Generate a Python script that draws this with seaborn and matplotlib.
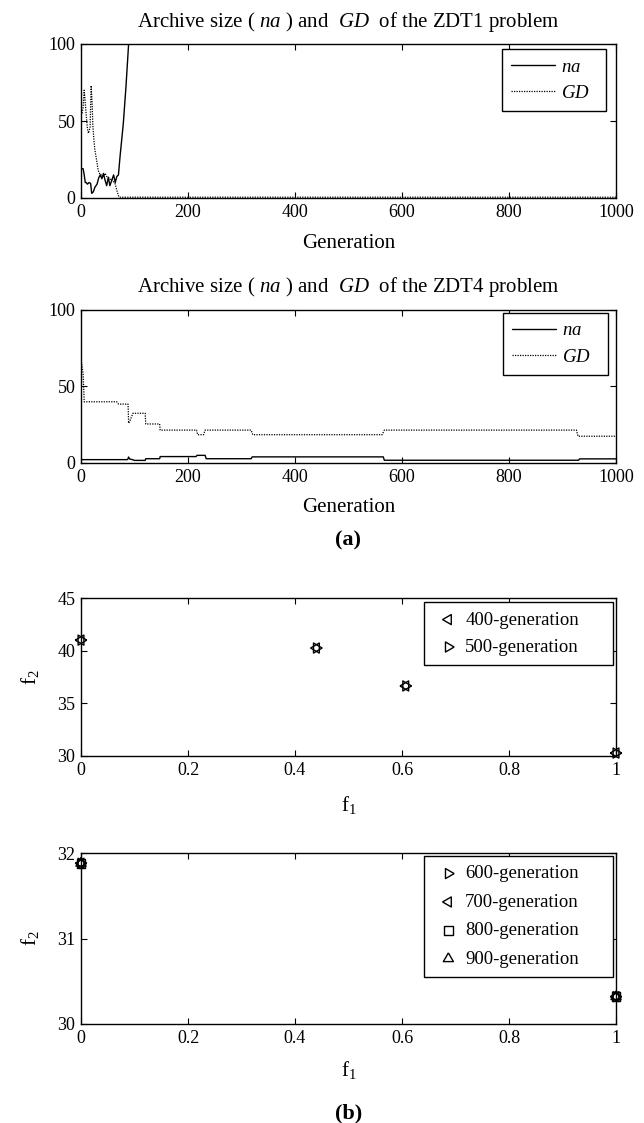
import numpy as np
import pandas as pd
import matplotlib
matplotlib.use("Agg")
import matplotlib.pyplot as plt
import seaborn as sns

# ---------------- data ----------------
# ZDT1
zdt1_na_gen = [0, 4, 6, 8, 10, 12, 15, 18, 20, 23, 26, 30, 33, 36, 39, 42, 45, 48, 51, 54,
               57, 61, 64, 67, 70, 73, 79, 84, 89, 92]
zdt1_na = [19, 19, 15, 10, 10, 9, 10, 9.5, 3, 4, 7, 9, 13, 15, 12.5, 16, 11.5, 8, 13.5, 8,
           11, 15, 10, 14, 15, 27, 48, 72, 100, 110]
zdt1_gd_gen = [2, 4, 6, 9, 12, 14, 17, 19, 21, 22, 24, 26, 29, 32, 36, 39, 42, 45, 48, 51,
               54, 57, 60, 64, 67, 70, 72, 1000]
zdt1_gd = [55, 59, 70, 57, 45, 42, 46, 73, 60, 48, 38, 31, 25, 18, 15, 15, 14, 16, 14, 13.5,
           12, 12.5, 11, 9, 5, 1.5, 0.5, 0.5]

# ZDT4
zdt4_na_gen = [0, 87, 89, 91, 96, 100, 120, 121, 147, 148, 215, 217, 232, 234, 318, 320,
               565, 567, 930, 932, 1000]
zdt4_na = [2.2, 2.2, 3.9, 2.6, 2.2, 1.7, 1.7, 2.8, 2.8, 4.2, 4.2, 5, 5, 2.8, 2.8, 4,
           4, 1.8, 1.8, 2.7, 2.7]
zdt4_gd_gen = [0, 2, 4, 6, 67, 70, 88, 89, 92, 97, 120, 121, 147, 148, 216, 218, 229, 232,
               318, 321, 563, 567, 926, 929, 1000]
zdt4_gd = [68, 63, 58, 40, 40, 38.5, 38.5, 26, 28, 32.5, 32.5, 25.5, 25.5, 21.5, 21.5, 18.5,
           18.5, 21.5, 21.5, 18.5, 18.5, 21.5, 21.5, 17.5, 17.5]

# Pareto fronts
front_a_f1 = [0.0, 0.44, 0.607, 1.0]
front_a_f2 = [41.0, 40.25, 36.65, 30.28]
front_a_labels = ["400-generation", "500-generation"]
front_a_markers = ["left", "right"]

front_b_f1 = [0.0, 1.0]
front_b_f2 = [31.88, 30.32]
front_b_labels = ["600-generation", "700-generation", "800-generation", "900-generation"]
front_b_markers = ["right", "left", "square", "up"]

gen_ticks = [0, 200, 400, 600, 800, 1000]
f1_ticks = [0, 0.2, 0.4, 0.6, 0.8, 1.0]
f1_ticklabels = ["0", "0.2", "0.4", "0.6", "0.8", "1"]

# MATLAB-like marker shapes (centroid-centred triangles)
MARKER_SHAPES = {
    "left": [(-1.0, 0.0), (0.5, 0.866), (0.5, -0.866), (-1.0, 0.0)],
    "right": [(1.0, 0.0), (-0.5, 0.866), (-0.5, -0.866), (1.0, 0.0)],
    "up": [(0.0, 1.0), (0.866, -0.5), (-0.866, -0.5), (0.0, 1.0)],
    "square": "s",
}
MARKER_SIZES = {"left": 70, "right": 70, "up": 70, "square": 40}

# ---------------- style ----------------
sns.set_theme(style="white")
plt.rcParams.update({
    "font.family": ["Liberation Serif", "DejaVu Serif"],
    "mathtext.fontset": "custom",
    "mathtext.rm": "Liberation Serif",
    "mathtext.it": "Liberation Serif:italic",
    "mathtext.bf": "Liberation Serif:bold",
    "axes.edgecolor": "black",
    "axes.linewidth": 1.0,
    "text.color": "black",
    "axes.labelcolor": "black",
    "xtick.color": "black",
    "ytick.color": "black",
    "xtick.labelsize": 13,
    "ytick.labelsize": 13,
    "legend.fontsize": 13.5,
})

W, H = 644, 1123
fig = plt.figure(figsize=(W / 100, H / 100), dpi=100)


def fx(px):
    return px / W


def fy(py):
    return 1 - py / H


AX_L, AX_R = 81, 616


def add_ax(top, bottom):
    return fig.add_axes([fx(AX_L), fy(bottom), fx(AX_R) - fx(AX_L), (bottom - top) / H])


ax1 = add_ax(44, 198)
ax2 = add_ax(310, 463)
ax3 = add_ax(598, 756)
ax4 = add_ax(853, 1024)

dotted = (0, (1, 1))

# Panel 1
sns.lineplot(x=zdt1_na_gen, y=zdt1_na, ax=ax1, color="black", linewidth=1.0,
             estimator=None, sort=False, label="$na$")
sns.lineplot(x=zdt1_gd_gen, y=zdt1_gd, ax=ax1, color="black", linewidth=0.9,
             linestyle=dotted, estimator=None, sort=False, label="$GD$")

# Panel 2
sns.lineplot(x=zdt4_na_gen, y=zdt4_na, ax=ax2, color="black", linewidth=1.0,
             estimator=None, sort=False, label="$na$")
sns.lineplot(x=zdt4_gd_gen, y=zdt4_gd, ax=ax2, color="black", linewidth=0.9,
             linestyle=dotted, estimator=None, sort=False, label="$GD$")

for ax in (ax1, ax2):
    ax.set_xlim(0, 1000)
    ax.set_ylim(0, 100)
    ax.set_xticks(gen_ticks)
    ax.set_yticks([0, 50, 100])

# Panel 3
for lab, mk in zip(front_a_labels, front_a_markers):
    sns.scatterplot(x=front_a_f1, y=front_a_f2, ax=ax3, marker=MARKER_SHAPES[mk],
                    s=MARKER_SIZES[mk], facecolors="none", edgecolor="black",
                    linewidth=1.0, label=lab, clip_on=False, zorder=3)
ax3.set_xlim(0, 1)
ax3.set_ylim(30, 45)
ax3.set_yticks([30, 35, 40, 45])

# Panel 4
for lab, mk in zip(front_b_labels, front_b_markers):
    sns.scatterplot(x=front_b_f1, y=front_b_f2, ax=ax4, marker=MARKER_SHAPES[mk],
                    s=MARKER_SIZES[mk], facecolors="none", edgecolor="black",
                    linewidth=1.0, label=lab, clip_on=False, zorder=3)
ax4.set_xlim(0, 1)
ax4.set_ylim(30, 32)
ax4.set_yticks([30, 31, 32])

for ax in (ax3, ax4):
    ax.set_xticks(f1_ticks)
    ax.set_xticklabels(f1_ticklabels)

for ax in (ax1, ax2, ax3, ax4):
    ax.grid(False)
    ax.set_xlabel("")
    ax.set_ylabel("")
    ax.tick_params(which="both", direction="in", top=True, right=True, bottom=True,
                   left=True, length=4, width=0.8, pad=4)
    for sp in ax.spines.values():
        sp.set_visible(True)
        sp.set_color("black")
        sp.set_linewidth(1.0)


def legend(ax, left_px, right_px, top_px, top_ax, bottom_ax, **kw):
    ax_w = AX_R - AX_L
    x0 = (left_px - AX_L) / ax_w
    w = (right_px - left_px) / ax_w
    y0 = (bottom_ax - top_px) / (bottom_ax - top_ax)
    leg = ax.legend(loc="upper left", bbox_to_anchor=(x0, y0, w, 0), mode="expand",
                    borderaxespad=0, frameon=True, fancybox=False, edgecolor="black",
                    framealpha=1, **kw)
    leg.get_frame().set_linewidth(1.0)
    return leg


legend(ax1, 502, 606, 49, 44, 198, handlelength=2.3, labelspacing=0.5, borderpad=0.5,
       handletextpad=0.37)
legend(ax2, 503, 608, 313, 310, 463, handlelength=2.3, labelspacing=0.5, borderpad=0.5,
       handletextpad=0.37)
legend(ax3, 424, 613, 602, 598, 756, handlelength=1.6, labelspacing=0.55, borderpad=0.5,
       scatterpoints=1, handletextpad=0.1)
legend(ax4, 424, 613, 856, 853, 1024, handlelength=1.6, labelspacing=0.6, borderpad=0.5,
       scatterpoints=1, handletextpad=0.1)

cx = fx((AX_L + AX_R) / 2)
fig.text(cx, fy(22), "Archive size ( $na$ ) and  $GD$  of the ZDT1 problem",
         ha="center", va="center", fontsize=15)
fig.text(cx, fy(287), "Archive size ( $na$ ) and  $GD$  of the ZDT4 problem",
         ha="center", va="center", fontsize=15)
fig.text(cx, fy(243), "Generation", ha="center", va="center", fontsize=15)
fig.text(cx, fy(507), "Generation", ha="center", va="center", fontsize=15)
fig.text(cx, fy(540), "(a)", ha="center", va="center", fontsize=16, fontweight="bold")
fig.text(cx, fy(805), "f$_1$", ha="center", va="center", fontsize=15)
fig.text(cx, fy(1070), "f$_1$", ha="center", va="center", fontsize=15)
fig.text(cx, fy(1113), "(b)", ha="center", va="center", fontsize=16, fontweight="bold")
fig.text(fx(30), fy(677), "f$_2$", ha="center", va="center", fontsize=15, rotation=90)
fig.text(fx(30), fy(938), "f$_2$", ha="center", va="center", fontsize=15, rotation=90)

fig.savefig("out.png", dpi=100)
